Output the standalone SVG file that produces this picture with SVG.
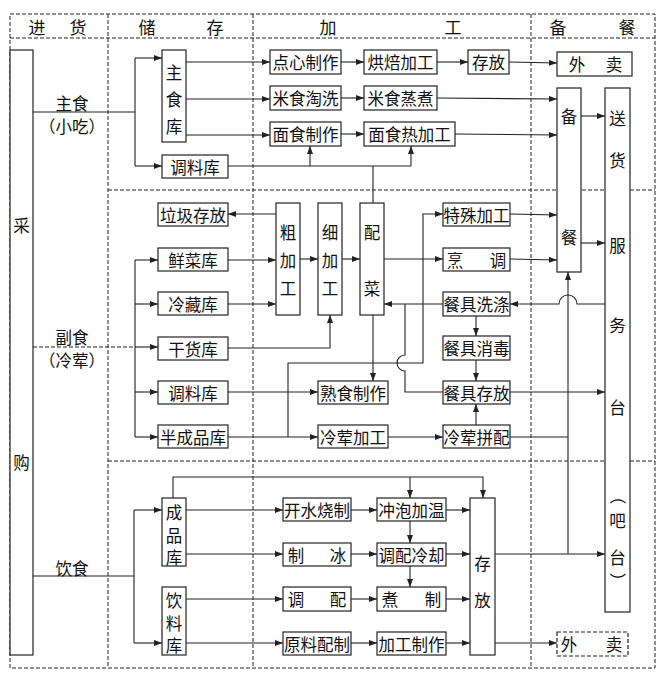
<svg xmlns="http://www.w3.org/2000/svg" width="663" height="679" viewBox="0 0 663 679">
<style>
.fr{fill:none;stroke:#222;stroke-width:1;stroke-dasharray:4 2}
.b{fill:#fff;stroke:#222;stroke-width:1.2}
.bd{fill:#fff;stroke:#222;stroke-width:1.2;stroke-dasharray:4 2}
text{font-family:"Noto Sans CJK SC","Noto Sans CJK JP",sans-serif;font-size:16.5px;fill:#111;text-anchor:middle;dominant-baseline:central}
.h{font-size:17px}
#conn path{fill:none;stroke:#222;stroke-width:1.1}
#conn .ar{marker-end:url(#a)}
</style>
<defs>
<marker id="a" viewBox="0 0 8 6" refX="8" refY="3" markerWidth="8" markerHeight="6" orient="auto" markerUnits="userSpaceOnUse"><path d="M0,0 L8,3 L0,6 z" fill="#222"/></marker>
</defs>
<rect width="663" height="679" fill="#fff"/>
<g id="frame">
<rect class="fr" x="10" y="14" width="645" height="654"/>
<path class="fr" d="M10,38 H655 M108,14 V668 M253,14 V668 M531,14 V668 M108,190 H655 M108,461 H655"/>
<text class="h" x="37" y="26">进</text><text class="h" x="78" y="26">货</text>
<text class="h" x="147" y="26">储</text><text class="h" x="215" y="26">存</text>
<text class="h" x="328" y="26">加</text><text class="h" x="453" y="26">工</text>
<text class="h" x="558" y="26">备</text><text class="h" x="627" y="26">餐</text>
</g>
<g id="conn">
<path d="M33,112 H135 M135,58 V166"/>
<path class="ar" d="M135,58 H162"/><path class="ar" d="M135,166 H162"/>
<path class="ar" d="M186,62 H270"/><path class="ar" d="M186,99 H270"/><path class="ar" d="M186,135 H270"/>
<path class="ar" d="M341,62 H364"/><path class="ar" d="M341,98 H364"/><path class="ar" d="M341,134 H364"/>
<path class="ar" d="M437,62 H468"/>
<path class="ar" d="M509,62 L557,63"/>
<path class="ar" d="M437,98 L557,99"/>
<path class="ar" d="M455,134 L557,135"/>
<path d="M228,166 H411 M373,166 V203"/>
<path class="ar" d="M310,166 V146"/><path class="ar" d="M411,166 V146"/>
<path class="ar" d="M581,116 H605"/><path class="ar" d="M581,243 H605"/>
<path d="M33,347 H135" stroke-dasharray="4 2"/>
<path class="ar" d="M135,347 H158"/>
<path d="M135,260 V437"/>
<path class="ar" d="M135,260 H158"/><path class="ar" d="M135,304 H158"/><path class="ar" d="M135,392 H158"/><path class="ar" d="M135,437 H158"/>
<path class="ar" d="M276,214 H228"/>
<path class="ar" d="M228,260 H276"/><path class="ar" d="M228,304 H276"/>
<path class="ar" d="M300,259 H318"/><path class="ar" d="M342,259 H360"/>
<path class="ar" d="M228,348 H330 V315"/>
<path class="ar" d="M384,259 H443"/>
<path class="ar" d="M288,437 V363 H423 V214 H443"/>
<path class="ar" d="M510,214 L557,215"/><path class="ar" d="M510,259 L557,260"/>
<path class="ar" d="M605,304 H577 A9,9 0 0 0 559,304 H510"/>
<path class="ar" d="M443,304 H384"/>
<path d="M405,304 V355 A8,8 0 0 0 405,371 V392 H443"/>
<path class="ar" d="M373,315 V381"/>
<path class="ar" d="M228,392 H318"/>
<path class="ar" d="M228,437 H318"/>
<path class="ar" d="M388,437 H443"/>
<path class="ar" d="M476,316 V336"/><path class="ar" d="M476,360 V381"/><path class="ar" d="M476,425 V404"/>
<path class="ar" d="M510,392 H605"/>
<path d="M510,437 H568"/>
<path class="ar" d="M568,554 V272"/>
<path d="M33,576 H134 M134,510 V643"/>
<path class="ar" d="M134,510 H162"/><path class="ar" d="M134,643 H162"/>
<path class="ar" d="M173,498 V477 H483 V498"/><path class="ar" d="M410,477 V498"/>
<path class="ar" d="M186,510 H283"/><path class="ar" d="M186,554 H283"/><path class="ar" d="M186,599 H283"/><path class="ar" d="M186,643 H283"/>
<path class="ar" d="M351,510 H377"/><path class="ar" d="M351,554 H377"/><path class="ar" d="M351,599 H377"/><path class="ar" d="M351,643 H377"/>
<path class="ar" d="M410,521 V543"/><path class="ar" d="M410,566 V587"/>
<path class="ar" d="M446,510 H470"/><path class="ar" d="M446,554 H470"/><path class="ar" d="M446,599 H470"/><path class="ar" d="M446,643 H470"/>
<path class="ar" d="M495,554 H605"/>
<path class="ar" d="M495,643 H557"/>
</g>
<g id="labels">
<text x="72" y="103">主食</text><text x="72" y="126">（小吃）</text>
<text x="72" y="337">副食</text><text x="72" y="360">（冷荤）</text>
<text x="72" y="568">饮食</text>
</g>
<g id="caigou"><rect class="b" x="10" y="50" width="23" height="605"/><text x="21.5" y="225">采</text><text x="21.5" y="462">购</text></g>
<g id="zhushiku"><rect class="b" x="162" y="50" width="24" height="92"/><text x="174" y="72">主</text><text x="174" y="99">食</text><text x="174" y="126">库</text></g>
<g id="tiaoliaoku1"><rect class="b" x="162" y="155" width="66" height="23"/><text x="195" y="166.5">调料库</text></g>
<g id="dianxin"><rect class="b" x="270" y="50" width="71" height="24"/><text x="305.5" y="62">点心制作</text></g>
<g id="hongbei"><rect class="b" x="364" y="50" width="73" height="24"/><text x="400.5" y="62">烘焙加工</text></g>
<g id="cunfang1"><rect class="b" x="468" y="50" width="41" height="24"/><text x="488.5" y="62">存放</text></g>
<g id="waimai1"><rect class="b" x="557" y="52" width="75" height="24"/><text x="577" y="64">外</text><text x="614" y="64">卖</text></g>
<g id="mishitaoxi"><rect class="b" x="270" y="86" width="71" height="24"/><text x="305.5" y="98">米食淘洗</text></g>
<g id="mishizhengzhu"><rect class="b" x="364" y="86" width="73" height="24"/><text x="400.5" y="98">米食蒸煮</text></g>
<g id="mianshizhizuo"><rect class="b" x="270" y="122" width="71" height="24"/><text x="305.5" y="134">面食制作</text></g>
<g id="mianshire"><rect class="b" x="364" y="122" width="91" height="24"/><text x="409.5" y="134">面食热加工</text></g>
<g id="beican"><rect class="b" x="557" y="88" width="24" height="184"/><text x="569" y="116">备</text><text x="569" y="237">餐</text></g>
<g id="fuwutai"><rect class="b" x="605" y="88" width="25" height="524"/>
<text x="617.5" y="118">送</text><text x="617.5" y="160">货</text><text x="617.5" y="245">服</text><text x="617.5" y="325">务</text><text x="617.5" y="407">台</text>
<text x="617.5" y="496" transform="rotate(90 617.5 496)">（</text><text x="617.5" y="520">吧</text><text x="617.5" y="557">台</text><text x="617.5" y="581" transform="rotate(90 617.5 581)">）</text></g>
<g id="laji"><rect class="b" x="158" y="203" width="70" height="23"/><text x="193" y="214.5">垃圾存放</text></g>
<g id="xiancai"><rect class="b" x="158" y="248" width="70" height="23"/><text x="193" y="259.5">鲜菜库</text></g>
<g id="lengcang"><rect class="b" x="158" y="292" width="70" height="23"/><text x="193" y="303.5">冷藏库</text></g>
<g id="ganhuo"><rect class="b" x="158" y="337" width="70" height="23"/><text x="193" y="348.5">干货库</text></g>
<g id="tiaoliaoku2"><rect class="b" x="158" y="381" width="70" height="23"/><text x="193" y="392.5">调料库</text></g>
<g id="banchengpin"><rect class="b" x="158" y="425" width="70" height="23"/><text x="193" y="436.5">半成品库</text></g>
<g id="cujiagong"><rect class="b" x="276" y="203" width="24" height="112"/><text x="288" y="232">粗</text><text x="288" y="260">加</text><text x="288" y="288">工</text></g>
<g id="xijiagong"><rect class="b" x="318" y="203" width="24" height="112"/><text x="330" y="232">细</text><text x="330" y="260">加</text><text x="330" y="288">工</text></g>
<g id="peicai"><rect class="b" x="360" y="203" width="24" height="112"/><text x="372" y="232">配</text><text x="372" y="288">菜</text></g>
<g id="teshu"><rect class="b" x="443" y="203" width="67" height="23"/><text x="476.5" y="214.5">特殊加工</text></g>
<g id="pengtiao"><rect class="b" x="443" y="248" width="67" height="23"/><text x="455" y="259.5">烹</text><text x="498" y="259.5">调</text></g>
<g id="xidi"><rect class="b" x="443" y="292" width="67" height="24"/><text x="476.5" y="304">餐具洗涤</text></g>
<g id="xiaodu"><rect class="b" x="443" y="336" width="67" height="24"/><text x="476.5" y="348">餐具消毒</text></g>
<g id="canjucunfang"><rect class="b" x="443" y="381" width="67" height="23"/><text x="476.5" y="392.5">餐具存放</text></g>
<g id="lenghunpinpei"><rect class="b" x="443" y="425" width="67" height="23"/><text x="476.5" y="436.5">冷荤拼配</text></g>
<g id="shushi"><rect class="b" x="318" y="381" width="70" height="23"/><text x="353" y="392.5">熟食制作</text></g>
<g id="lenghunjiagong"><rect class="b" x="318" y="425" width="70" height="23"/><text x="353" y="436.5">冷荤加工</text></g>
<g id="chengpinku"><rect class="b" x="162" y="498" width="24" height="68"/><text x="174" y="512">成</text><text x="174" y="535">品</text><text x="174" y="557">库</text></g>
<g id="yinliaoku"><rect class="b" x="162" y="587" width="24" height="68"/><text x="174" y="600">饮</text><text x="174" y="623">料</text><text x="174" y="645">库</text></g>
<g id="kaishui"><rect class="b" x="283" y="498" width="68" height="23"/><text x="317" y="509.5">开水烧制</text></g>
<g id="zhibing"><rect class="b" x="283" y="543" width="68" height="23"/><text x="296" y="554.5">制</text><text x="338" y="554.5">冰</text></g>
<g id="tiaopei"><rect class="b" x="283" y="587" width="68" height="24"/><text x="296" y="599">调</text><text x="338" y="599">配</text></g>
<g id="yuanliao"><rect class="b" x="283" y="632" width="68" height="23"/><text x="317" y="643.5">原料配制</text></g>
<g id="chongpao"><rect class="b" x="377" y="498" width="69" height="23"/><text x="411.5" y="509.5">冲泡加温</text></g>
<g id="lengque"><rect class="b" x="377" y="543" width="69" height="23"/><text x="411.5" y="554.5">调配冷却</text></g>
<g id="zhuzhi"><rect class="b" x="377" y="587" width="69" height="24"/><text x="390" y="599">煮</text><text x="433" y="599">制</text></g>
<g id="jiagongzhizuo"><rect class="b" x="377" y="632" width="69" height="23"/><text x="411.5" y="643.5">加工制作</text></g>
<g id="cunfang2"><rect class="b" x="470" y="498" width="25" height="157"/><text x="482.5" y="563">存</text><text x="482.5" y="600">放</text></g>
<g id="waimai2"><rect class="bd" x="557" y="632" width="71" height="24"/><text x="569" y="644">外</text><text x="614" y="644">卖</text></g>
</svg>
